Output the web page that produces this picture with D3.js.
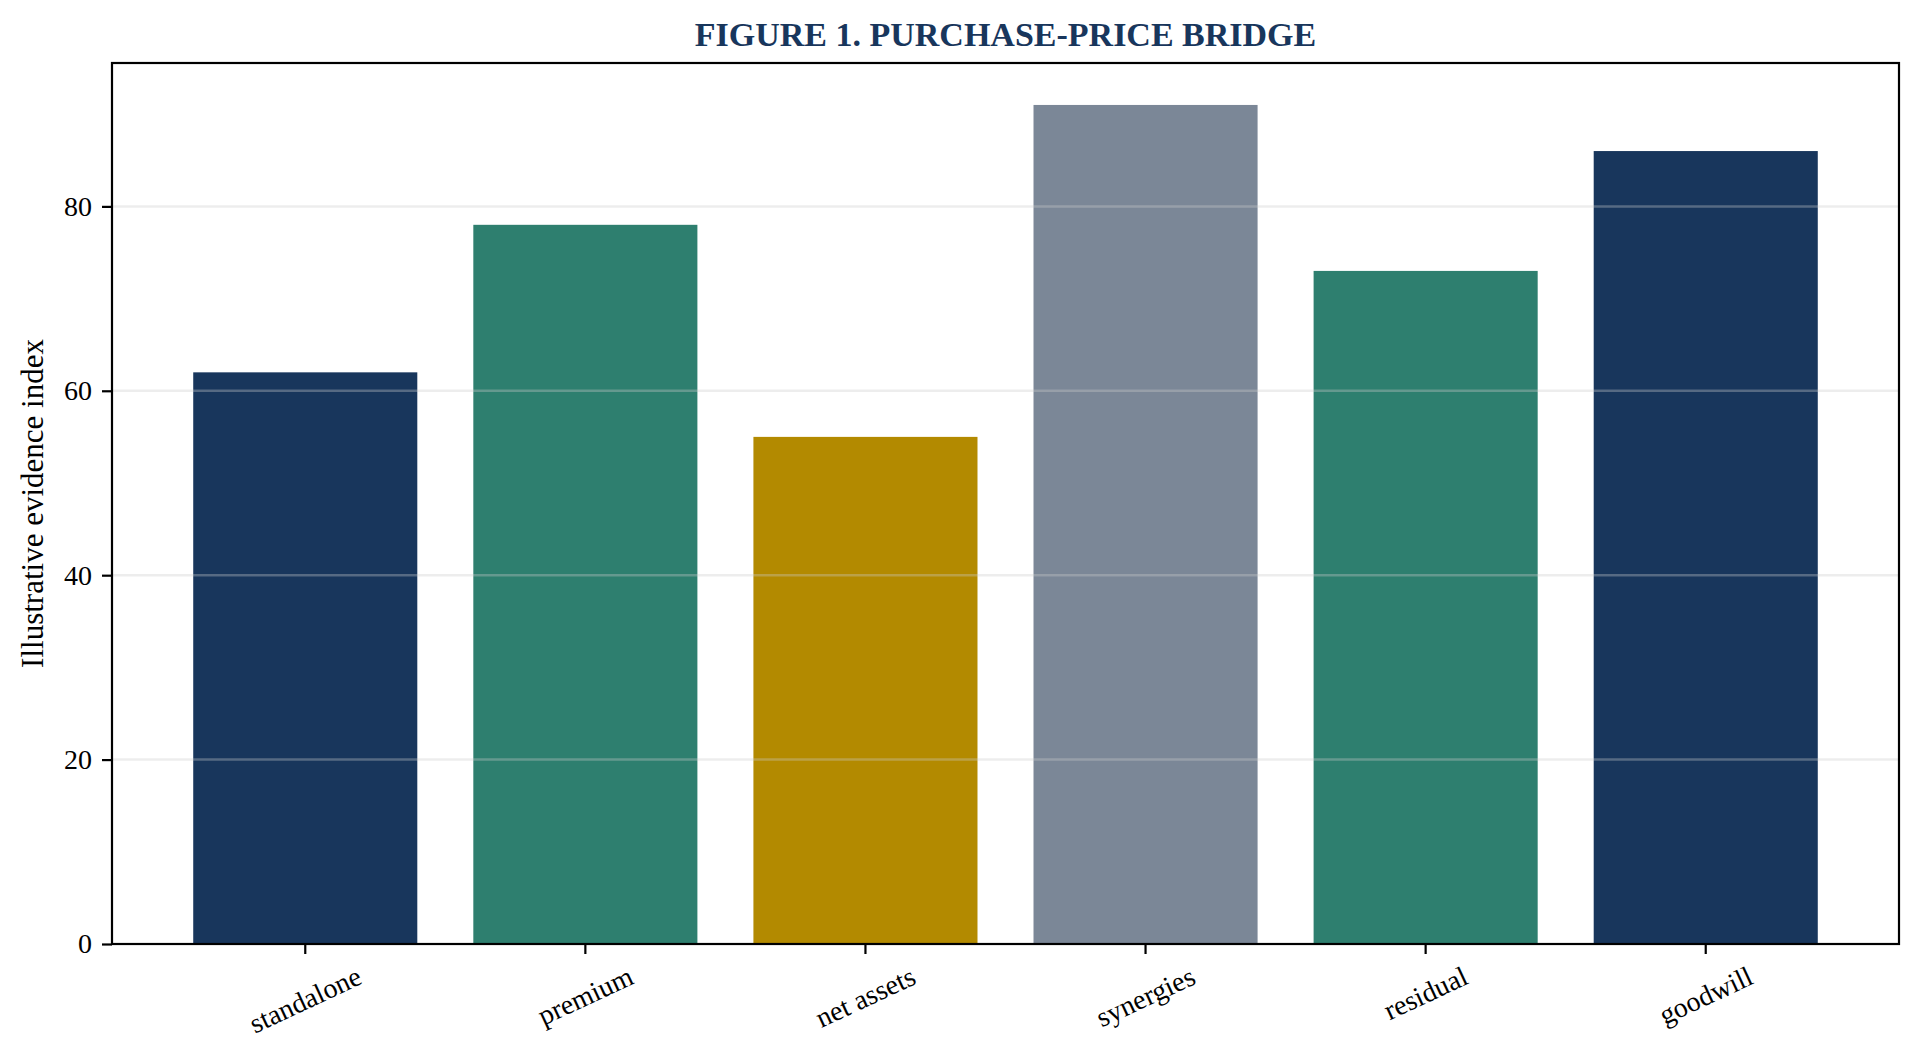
<!DOCTYPE html>
<html>
<head>
<meta charset="utf-8">
<script src="https://cdn.jsdelivr.net/npm/d3@7"></script>
<style>
  body { margin: 0; background: #ffffff; }
  text { font-family: "Liberation Serif", "Times New Roman", serif; }
</style>
</head>
<body>
<div id="chart"></div>
<script>
// chart values
var categories = ["standalone", "premium", "net assets", "synergies", "residual", "goodwill"];
var values = [62, 78, 55, 91, 73, 86];
var barColors = ["#18365c", "#2e7f6f", "#b38a00", "#7b8797", "#2e7f6f", "#18365c"];
var yTicks = [0, 20, 40, 60, 80];

var svgWidth = 1924;
var svgHeight = 1056;

var margin = {
  top: 63,
  right: 25,
  bottom: 112,
  left: 112
};

var width = svgWidth - margin.left - margin.right;
var height = svgHeight - margin.top - margin.bottom;

var svg = d3.select("#chart")
  .append("svg")
  .attr("width", svgWidth)
  .attr("height", svgHeight);

var chartGroup = svg.append("g")
  .attr("transform", `translate(${margin.left}, ${margin.top})`);

// scales (matplotlib-like: 0.8 wide bars, 5% x margins, 5% headroom on y)
var xScale = d3.scaleBand()
  .domain(categories)
  .range([0, width])
  .paddingInner(0.2)
  .paddingOuter(0.29);

var yScale = d3.scaleLinear()
  .domain([0, d3.max(values) * 1.05])
  .range([height, 0]);

// bars
chartGroup.selectAll("rect.bar")
  .data(values)
  .enter()
  .append("rect")
  .attr("class", "bar")
  .attr("x", (d, i) => xScale(categories[i]))
  .attr("y", d => yScale(d))
  .attr("width", xScale.bandwidth())
  .attr("height", d => height - yScale(d))
  .attr("fill", (d, i) => barColors[i]);

// grid lines drawn over the bars, faint
chartGroup.append("g")
  .selectAll("line")
  .data(yTicks.filter(t => t > 0))
  .enter()
  .append("line")
  .attr("x1", 0)
  .attr("x2", width)
  .attr("y1", d => yScale(d))
  .attr("y2", d => yScale(d))
  .attr("stroke", "#cccccc")
  .attr("stroke-opacity", 0.35)
  .attr("stroke-width", 2.5);

// y axis
var leftAxis = d3.axisLeft(yScale)
  .tickValues(yTicks)
  .tickSize(10)
  .tickPadding(10)
  .tickFormat(d3.format("d"));

var yAxisG = chartGroup.append("g").call(leftAxis);
yAxisG.select(".domain").remove();
yAxisG.selectAll(".tick line").attr("stroke", "#000").attr("stroke-width", 2.2);
yAxisG.selectAll(".tick text")
  .attr("font-size", 28)
  .attr("fill", "#000")
  .style("font-family", "Liberation Serif, serif");

// x axis ticks
var bottomAxis = d3.axisBottom(xScale)
  .tickSize(10)
  .tickFormat("");

var xAxisG = chartGroup.append("g")
  .attr("transform", `translate(0, ${height})`)
  .call(bottomAxis);
xAxisG.select(".domain").remove();
xAxisG.selectAll(".tick line").attr("stroke", "#000").attr("stroke-width", 2.2);

// rotated x labels, centred under the tick
var angle = 25 * Math.PI / 180;
var labelTop = height + 19;
categories.forEach(function(c) {
  var g = chartGroup.append("g");
  var t = g.append("text")
    .attr("text-anchor", "middle")
    .attr("dominant-baseline", "central")
    .attr("font-size", 28)
    .attr("fill", "#000")
    .attr("transform", "rotate(-25)")
    .text(c);
  var w = t.node().getComputedTextLength();
  var h = 28 * 0.9;
  var halfH = (w * Math.sin(angle) + h * Math.cos(angle)) / 2;
  g.attr("transform", `translate(${xScale(c) + xScale.bandwidth() / 2}, ${labelTop + halfH})`);
});

// frame (all four spines)
chartGroup.append("rect")
  .attr("x", 0)
  .attr("y", 0)
  .attr("width", width)
  .attr("height", height)
  .attr("fill", "none")
  .attr("stroke", "#000")
  .attr("stroke-width", 2.2);

// y label
chartGroup.append("text")
  .attr("transform", `translate(${32 - margin.left}, ${height / 2}) rotate(-90)`)
  .attr("text-anchor", "middle")
  .attr("dominant-baseline", "central")
  .attr("font-size", 31)
  .attr("fill", "#000")
  .text("Illustrative evidence index");

// title
svg.append("text")
  .attr("x", margin.left + width / 2)
  .attr("y", 46)
  .attr("text-anchor", "middle")
  .attr("font-size", 34)
  .attr("font-weight", "bold")
  .attr("fill", "#18365c")
  .text("FIGURE 1. PURCHASE-PRICE BRIDGE");
</script>
</body>
</html>
